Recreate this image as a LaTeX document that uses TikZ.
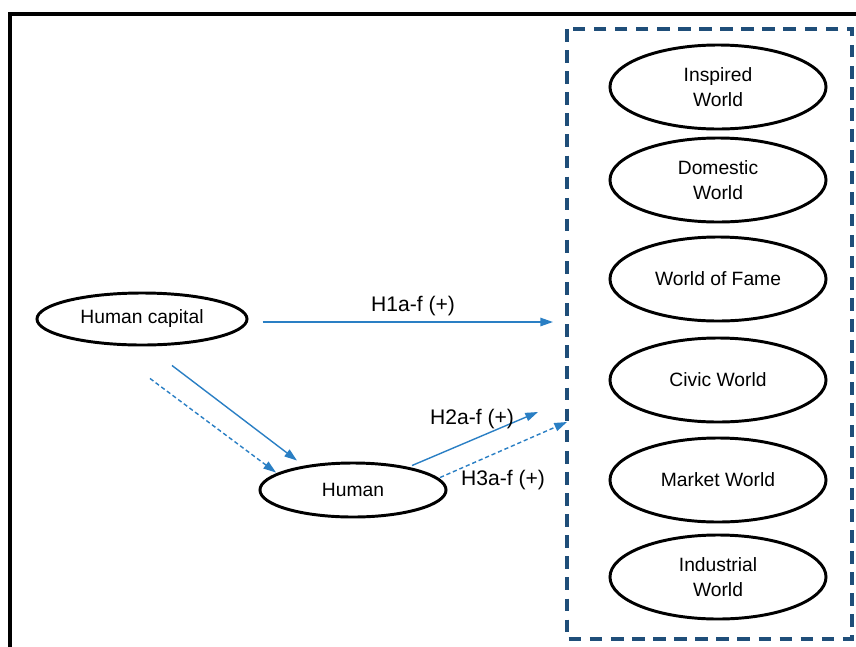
\documentclass[tikz,border=0pt]{standalone}
\usepackage{fontspec}
\setmainfont{Liberation Sans}
\usetikzlibrary{arrows.meta,shapes.geometric}
\definecolor{arrowblue}{HTML}{2A7FC4}
\definecolor{boxnavy}{HTML}{1F4E79}
\tikzset{
  construct/.style={draw, ellipse, line width=2.1pt, inner sep=0pt, align=center,
    font=\fontsize{13.7}{17.5}\selectfont},
  world/.style={construct, minimum width=5.4cm, minimum height=2.1cm},
  flow/.style={arrowblue, line width=1pt, -{Triangle[length=9pt,width=6pt]}},
  dashflow/.style={flow, dash pattern=on 3pt off 2pt},
  hyp/.style={font=\fontsize{15}{18}\selectfont}
}
\begin{document}
\begin{tikzpicture}[x=0.025cm, y=-0.025cm]
\useasboundingbox (0,0) rectangle (856,646);
% Frame
\draw[line width=2.2pt] (10,680) -- (10,14) -- (900,14);

% Worlds
\draw[boxnavy, line width=2.2pt, dash pattern=on 9pt off 6pt] (567,29) rectangle (852,639);
\node[world] (inspired) at (718,87) {Inspired\\World};
\node[world] (domestic) at (718,180) {Domestic\\World};
\node[world] (fame) at (718,279) {World of Fame};
\node[world] (civic) at (718,380) {Civic World};
\node[world] (market) at (718,480) {Market World};
\node[world] (industrial) at (718,577) {Industrial\\World};

% Human capital
\node[construct, minimum width=5.25cm, minimum height=1.3cm] (hc) at (142,319) {Human capital};

% Human
\node[construct, minimum width=4.65cm, minimum height=1.35cm] (human) at (353,490) {Human};

% Arrow ends at the worlds box
\coordinate (h1end) at (553,322);
\coordinate (h2end) at (538,412);
\coordinate (h3end) at (567,422);

% H1
\draw[flow] (hc.east) ++(14,3) -- (h1end);
\node[hyp] (h1) at (413,306) {H1a-f (+)};

% Human capital to Human
\draw[flow] (hc.south) ++(30,19) -- ([shift={(-56,-1)}]human.north);
\draw[dashflow] (hc.south) ++(8,32) -- ([shift={(-77,11)}]human.north);

% H2 and H3
\draw[flow] (human.north) ++(59,4) -- (h2end);
\node[hyp] (h2) at (472,419) {H2a-f (+)};
\draw[dashflow] (human.north) ++(87,16) -- (h3end);
\node[hyp] (h3) at (503,480) {H3a-f (+)};
\end{tikzpicture}
\end{document}
